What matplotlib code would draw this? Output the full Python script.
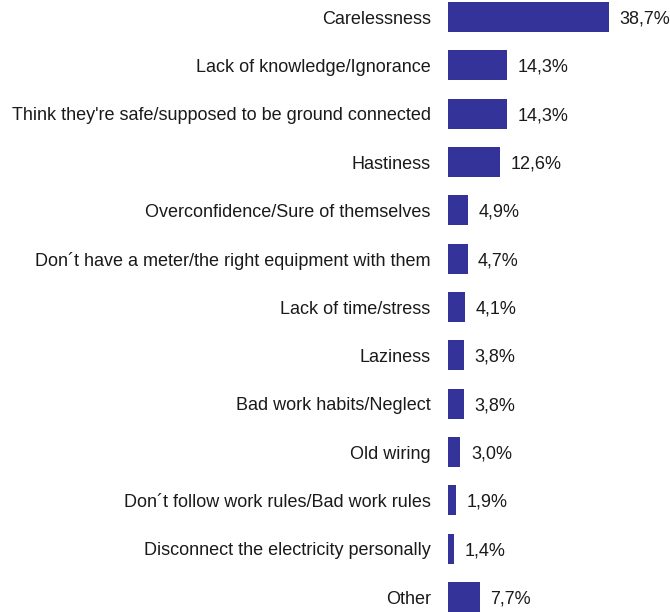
import matplotlib.pyplot as plt
from matplotlib import font_manager

categories = [
    'Carelessness',
    'Lack of knowledge/Ignorance',
    "Think they're safe/supposed to be ground connected",
    'Hastiness',
    'Overconfidence/Sure of themselves',
    'Don´t have a meter/the right equipment with them',
    'Lack of time/stress',
    'Laziness',
    'Bad work habits/Neglect',
    'Old wiring',
    'Don´t follow work rules/Bad work rules',
    'Disconnect the electricity personally',
    'Other',
]
values = [38.7, 14.3, 14.3, 12.6, 4.9, 4.7, 4.1, 3.8, 3.8, 3.0, 1.9, 1.4, 7.7]
value_labels = ['38,7%', '14,3%', '14,3%', '12,6%', '4,9%', '4,7%', '4,1%',
                '3,8%', '3,8%', '3,0%', '1,9%', '1,4%', '7,7%']

names = {f.name for f in font_manager.fontManager.ttflist}
family = ['Liberation Sans Narrow', 'DejaVu Sans'] if 'Liberation Sans Narrow' in names else ['Liberation Sans', 'DejaVu Sans']
plt.rcParams['font.family'] = family

fig = plt.figure(figsize=(6.7, 6.12), dpi=100)
ax = fig.add_axes([448 / 670, 0, 222 / 670, 1])

ypos = list(range(len(categories)))
ax.barh(ypos, values, height=0.62, color='#333399')
ax.set_xlim(0, 38.7 * 222 / 161)
ax.set_ylim(12 + 15 / 48.33, -17 / 48.33)

for y, v, lab in zip(ypos, values, value_labels):
    ax.annotate(lab, (v, y), xytext=(7.5, -1.5), textcoords='offset points',
                va='center', ha='left', fontsize=13, color='#1a1a1a',
                annotation_clip=False)
for y, cat in zip(ypos, categories):
    ax.annotate(cat, (0, y), xytext=(-12.5, -1.5), textcoords='offset points',
                va='center', ha='right', fontsize=13, color='#1a1a1a',
                annotation_clip=False)

ax.axis('off')
fig.savefig('out.png', dpi=100)
